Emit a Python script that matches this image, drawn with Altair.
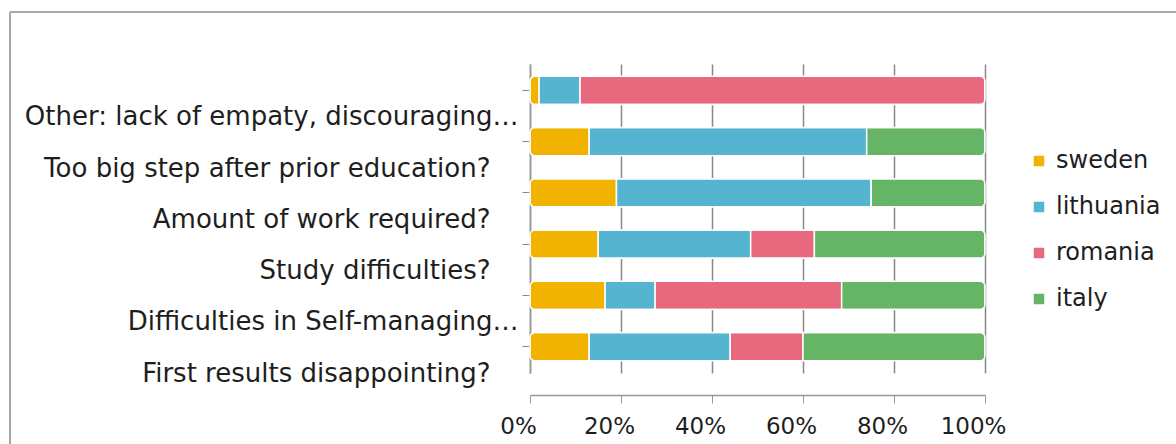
import altair as alt
import pandas as pd

categories = [
    "Other: lack of empaty, discouraging…",
    "Too big step after prior education?",
    "Amount of work required?",
    "Study difficulties?",
    "Difficulties in Self-managing…",
    "First results disappointing?",
]
series = ["sweden", "lithuania", "romania", "italy"]
sweden = [2, 13, 19, 15, 16.5, 13]
lithuania = [9, 61, 56, 33.5, 11, 31]
romania = [89, 0, 0, 14, 41, 16]
italy = [0, 26, 25, 37.5, 31.5, 40]
colors = ["#F2B200", "#55B5D1", "#E8697E", "#66B466"]

rows = []
for si, (name, vals) in enumerate(zip(series, [sweden, lithuania, romania, italy])):
    for c, v in zip(categories, vals):
        rows.append({"category": c, "country": name, "value": v, "order": si})
df = pd.DataFrame(rows)

FONT = "DejaVu Sans"

bars = alt.Chart(df).mark_bar(stroke="white", strokeWidth=1.5, cornerRadius=5).encode(
    y=alt.Y("category:N", sort=categories, title=None,
            scale=alt.Scale(paddingInner=0.45, paddingOuter=0.24),
            axis=alt.Axis(labelFont=FONT, labelFontSize=26, labelColor="#1e1e1e",
                          labelLimit=600, labelOffset=27,
                          labelPadding={"condition": {"test": "indexof(datum.value, '…') >= 0", "value": 4},
                                        "value": 32},
                          tickSize=8, tickColor="#888888", domainColor="#999999",
                          domainWidth=1.5)),
    x=alt.X("value:Q", stack="normalize", title=None,
            scale=alt.Scale(domain=[0, 1], nice=False),
            axis=alt.Axis(format=".0%", values=[0, 0.2, 0.4, 0.6, 0.8, 1.0],
                          labelFont=FONT, labelFontSize=23, labelColor="#1e1e1e",
                          labelFlush=False, labelOverlap=False, labelOffset=-12,
                          grid=True, gridColor="#888888", gridWidth=1.5,
                          tickSize=8, tickColor="#999999", domainColor="#999999",
                          domainWidth=1.5, offset=22, labelPadding=12)),
    color=alt.Color("country:N", scale=alt.Scale(domain=series, range=colors),
                    legend=alt.Legend(title=None, orient="none", legendX=497, legendY=85,
                                      symbolType="square", symbolSize=110,
                                      labelFont=FONT, labelFontSize=24, labelColor="#1e1e1e",
                                      labelOffset=5,
                                      rowPadding=22, symbolStrokeWidth=0)),
    order=alt.Order("order:Q"),
)

frame = pd.DataFrame([{"k": 1}])
top_line = alt.Chart(frame).mark_rule(color="#A8A8A8", strokeWidth=2).encode(
    x=alt.value(-520), x2=alt.value(700), y=alt.value(-52))
left_line = alt.Chart(frame).mark_rule(color="#A8A8A8", strokeWidth=2).encode(
    x=alt.value(-520), y=alt.value(-52), y2=alt.value(400))

chart = alt.layer(top_line, left_line, bars).properties(
    width=455, height=309,
    autosize=alt.AutoSizeParams(type="none"),
    padding={"left": 530, "top": 64, "right": 191, "bottom": 71},
    background="white",
).configure_view(stroke=None)

chart.save("out.html", embed_options={"renderer": "svg", "actions": False})
